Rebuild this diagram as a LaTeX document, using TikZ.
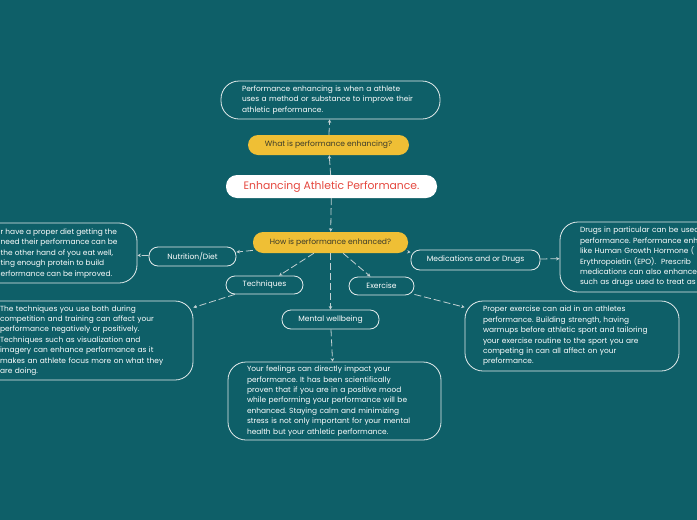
\documentclass[tikz,border=0pt]{standalone}
\usepackage{fontspec}
\setmainfont{Poppins}
\usetikzlibrary{arrows.meta}
\definecolor{bg}{HTML}{0E5F68}
\definecolor{yel}{HTML}{EFBF35}
\definecolor{redt}{HTML}{E5483F}
\definecolor{edgec}{HTML}{E4ECEC}
\definecolor{connc}{HTML}{C3D1D3}
\definecolor{darkt}{HTML}{3A3A2A}
\tikzset{
  pill/.style={draw=edgec, line width=0.8pt, text=white, inner sep=0pt,
    font=\fontsize{7.6}{9}\selectfont, rounded corners=9pt},
  yelpill/.style={fill=yel, draw=none, text=darkt, inner sep=0pt,
    font=\fontsize{7.6}{9}\selectfont, rounded corners=10pt},
  textbox/.style={draw=edgec, line width=0.8pt, text=white, rounded corners=18pt,
    align=left, inner ysep=0pt, font=\fontsize{7.45}{10.4}\selectfont},
  conn/.style={draw=connc, line width=0.8pt, dash pattern=on 7pt off 3pt,
    -{Stealth[length=3.5pt,width=3.5pt]}}
}
\begin{document}
\frenchspacing
\begin{tikzpicture}[x=1pt,y=-1pt]
\fill[bg] (0,0) rectangle (697,520);
\useasboundingbox (0,0) rectangle (697,520);
\clip (0,0) rectangle (697,520);

\node[textbox, text width=177pt, inner xsep=21pt, minimum width=219pt, minimum height=38pt] (topbox) at (330.5,100)
 {Performance enhancing is when a athlete\\uses a method or substance to improve their\\athletic performance.};
\node[yelpill, minimum width=161pt, minimum height=20pt] (what) at (328.5,145) {What is performance enhancing?};
\node[fill=white, draw=none, rounded corners=11pt, minimum width=211pt, minimum height=23pt, text=redt,
  font=\fontsize{10.8}{13}\selectfont] (central) at (331.5,186.5) {Enhancing Athletic Performance.};
\node[yelpill, minimum width=155pt, minimum height=21pt] (how) at (330.5,242.5) {How is performance enhanced?};

\node[pill, minimum width=87pt, minimum height=19pt] (nut) at (192.5,256.5) {Nutrition/Diet};
\node[pill, minimum width=77pt, minimum height=18pt] (tech) at (264.5,285) {Techniques};
\node[pill, minimum width=97pt, minimum height=19pt] (mental) at (330.5,319.5) {Mental wellbeing};
\node[pill, minimum width=65pt, minimum height=18pt] (ex) at (381.5,286) {Exercise};
\node[pill, minimum width=129pt, minimum height=20pt] (med) at (475.5,260) {Medications and or Drugs};

\node[textbox, minimum width=215pt, minimum height=60pt] (nutbox) at (29.5,253) {};
\node[text=white, align=left, anchor=west, inner sep=0pt, font=\fontsize{7.45}{10.4}\selectfont] (nuttext) at (0.5,253.5)
 {r have a proper diet getting the\\need their performance can be\\the other hand of you eat well,\\ting enough protein to build\\erformance can be improved.};

\node[textbox, text width=171pt, inner xsep=22pt, minimum height=79pt] (techbox) at (85.5,340.5)
 {The techniques you use both during\\competition and training can affect your\\performance negatively or positively.\\Techniques such as visualization and\\imagery can enhance performance as it\\makes an athlete focus more on what they\\are doing.};

\node[textbox, text width=175pt, inner xsep=19pt, minimum height=78pt] (mentbox) at (334.5,401)
 {Your feelings can directly impact your\\performance. It has been scientifically\\proven that if you are in a positive mood\\while performing your performance will be\\enhanced. Staying calm and minimizing\\stress is not only important for your mental\\health but your athletic performance.};

\node[textbox, text width=178pt, inner xsep=18pt, minimum height=70pt] (exbox) at (572,336)
 {Proper exercise can aid in an athletes\\performance. Building strength, having\\warmups before athletic sport and tailoring\\your exercise routine to the sport you are\\competing in can all affect on your\\preformance.};

\node[textbox, text width=175pt, inner xsep=20pt, minimum height=70pt] (drugbox) at (667.5,257)
 {Drugs in particular can be used\\performance. Performance enh\\like Human Growth Hormone (\\Erythropoietin (EPO).\ \ Prescrib\\medications can also enhance\\such as drugs used to treat as};

\draw[conn] (what) -- (topbox);
\draw[conn] (central) -- (what);
\draw[conn] (central) -- (how);
\draw[conn] (how) -- (nut);
\draw[conn] (nut) -- (nutbox);
\draw[conn] (how) -- (tech);
\draw[conn] (tech) -- (techbox.17);
\draw[conn] (how) -- (mental);
\draw[conn] (mental) -- (mentbox);
\draw[conn] (how) -- (ex);
\draw[conn] (ex) -- (exbox.165);
\draw[conn] (how) -- (med);
\draw[conn] (med) -- (drugbox);
\end{tikzpicture}
\end{document}
